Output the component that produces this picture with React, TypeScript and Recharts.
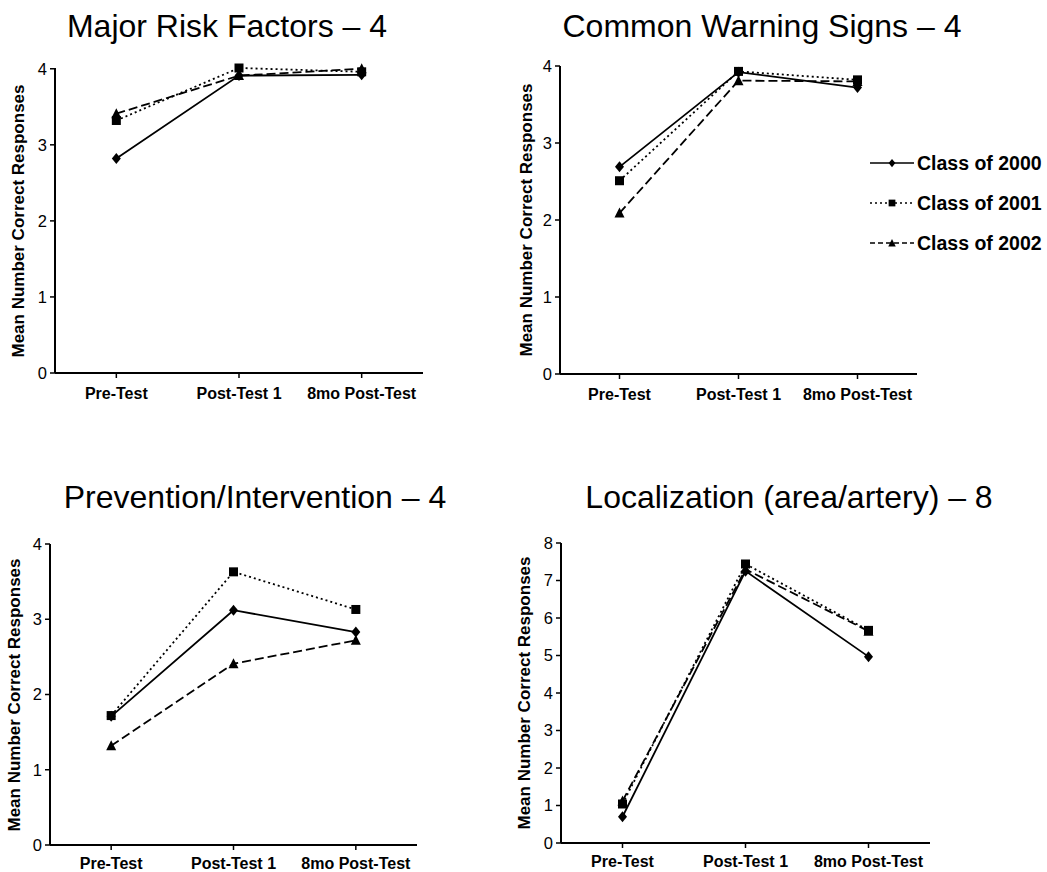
import React from 'react';
import { LineChart, Line, XAxis, YAxis, Legend } from 'recharts';

const stages = ['Pre-Test', 'Post-Test 1', '8mo Post-Test'];
const seriesNames = ['Class of 2000', 'Class of 2001', 'Class of 2002'];

// Major Risk Factors – 4
const riskFactors2000 = [2.82, 3.91, 3.92];
const riskFactors2001 = [3.32, 4.01, 3.96];
const riskFactors2002 = [3.41, 3.91, 4.0];

// Common Warning Signs – 4
const warningSigns2000 = [2.69, 3.92, 3.72];
const warningSigns2001 = [2.51, 3.93, 3.82];
const warningSigns2002 = [2.09, 3.81, 3.8];

// Prevention/Intervention – 4
const prevention2000 = [1.71, 3.12, 2.83];
const prevention2001 = [1.72, 3.63, 3.13];
const prevention2002 = [1.32, 2.41, 2.72];

// Localization (area/artery) – 8
const localization2000 = [0.7, 7.25, 4.97];
const localization2001 = [1.04, 7.44, 5.67];
const localization2002 = [1.12, 7.3, 5.65];

const ticks4 = [0, 1, 2, 3, 4];
const minor4 = [0.5, 1.5, 2.5, 3.5];
const ticks8 = [0, 1, 2, 3, 4, 5, 6, 7, 8];

const FONT = '"Liberation Sans", Arial, Helvetica, sans-serif';
const XAXIS_H = 30;

type Shape = 'diamond' | 'square' | 'triangle';

const SERIES: { key: string; name: string; dash?: string; legendDash?: string; shape: Shape }[] = [
  { key: 'c2000', name: seriesNames[0], shape: 'diamond' },
  { key: 'c2001', name: seriesNames[1], dash: '2 3', legendDash: '2 3', shape: 'square' },
  { key: 'c2002', name: seriesNames[2], dash: '9 4', legendDash: '5 3', shape: 'triangle' },
];

const buildRows = (a: number[], b: number[], c: number[]) =>
  stages.map((stage, i) => ({ stage, c2000: a[i], c2001: b[i], c2002: c[i] }));

const Marker = ({ cx, cy, shape, s = 1 }: { cx?: number; cy?: number; shape: Shape; s?: number }) => {
  if (cx == null || cy == null) return null;
  if (shape === 'diamond')
    return <path d={`M${cx},${cy - 5.5 * s}L${cx + 4.5 * s},${cy}L${cx},${cy + 5.5 * s}L${cx - 4.5 * s},${cy}Z`} fill="#000" />;
  if (shape === 'square')
    return <rect x={cx - 4.5 * s} y={cy - 4.5 * s} width={9 * s} height={9 * s} fill="#000" />;
  return <path d={`M${cx},${cy - 5.5 * s}L${cx + 5 * s},${cy + 4.5 * s}L${cx - 5 * s},${cy + 4.5 * s}Z`} fill="#000" />;
};

const dotFor = (shape: Shape) => (props: any) => (
  <Marker key={`${shape}-${props.index}`} cx={props.cx} cy={props.cy} shape={shape} />
);

const LegendBox = () => (
  <div style={{ fontFamily: FONT }}>
    {SERIES.map((s) => (
      <div key={s.key} style={{ display: 'flex', alignItems: 'center', height: 40 }}>
        <svg width={48} height={16} style={{ display: 'block' }}>
          <line x1={2} y1={8} x2={46} y2={8} stroke="#000" strokeWidth={1.6} strokeDasharray={s.legendDash} />
          <Marker cx={24} cy={8} shape={s.shape} s={0.75} />
        </svg>
        <span style={{ fontWeight: 'bold', fontSize: 19.5, color: '#000', marginLeft: 1, whiteSpace: 'nowrap' }}>
          {s.name}
        </span>
      </div>
    ))}
  </div>
);

interface Frame {
  left: number;
  top: number;
  width: number;
  height: number;
  plotLeft: number;
  plotRight: number;
  plotTop: number;
  plotBottom: number;
}

interface PanelProps {
  title: string;
  titleX: number;
  titleBaseline: number;
  labelX: number;
  rows: any[];
  yMax: number;
  yTicks: number[];
  minorTicks?: number[];
  frame: Frame;
  xTickMargin?: number;
  legend?: { left: number; top: number };
}

const Panel: React.FC<PanelProps> = ({
  title,
  titleX,
  titleBaseline,
  labelX,
  rows,
  yMax,
  yTicks,
  minorTicks,
  frame,
  xTickMargin = 10,
  legend,
}) => {
  const { left, top, width, height, plotLeft, plotRight, plotTop, plotBottom } = frame;
  const pad = (plotRight - plotLeft) / 6;
  const labelY = (plotTop + plotBottom) / 2;
  return (
    <>
      <div
        style={{
          position: 'absolute',
          left: titleX - 300,
          top: titleBaseline - 29,
          width: 600,
          textAlign: 'center',
          fontSize: 32,
          lineHeight: '37px',
          color: '#000',
          whiteSpace: 'nowrap',
        }}
      >
        {title}
      </div>
      <div
        style={{
          position: 'absolute',
          left: labelX - 200,
          top: labelY - 10,
          width: 400,
          height: 20,
          lineHeight: '20px',
          textAlign: 'center',
          fontWeight: 'bold',
          fontSize: 17,
          color: '#000',
          transform: 'rotate(-90deg)',
          whiteSpace: 'nowrap',
        }}
      >
        Mean Number Correct Responses
      </div>
      <div style={{ position: 'absolute', left, top }}>
        <LineChart
          width={width}
          height={height}
          data={rows}
          margin={{
            top: plotTop - top,
            left: 0,
            right: left + width - plotRight,
            bottom: top + height - plotBottom - XAXIS_H,
          }}
        >
          <XAxis
            dataKey="stage"
            type="category"
            height={XAXIS_H}
            padding={{ left: pad, right: pad }}
            axisLine={{ stroke: '#000', strokeWidth: 2 }}
            tickLine={{ stroke: '#000', strokeWidth: 1.5 }}
            tickSize={5}
            tickMargin={xTickMargin}
            interval={0}
            tick={{ fill: '#000', fontSize: 16, fontWeight: 'bold', fontFamily: FONT }}
          />
          <YAxis
            yAxisId="main"
            type="number"
            domain={[0, yMax]}
            ticks={yTicks}
            width={plotLeft - left}
            axisLine={{ stroke: '#000', strokeWidth: 2 }}
            tickLine={{ stroke: '#000', strokeWidth: 1.5 }}
            tickSize={5}
            tickMargin={3}
            interval={0}
            tick={{ fill: '#000', fontSize: 16.5, fontFamily: FONT }}
          />
          {minorTicks && (
            <YAxis
              yAxisId="minor"
              type="number"
              domain={[0, yMax]}
              ticks={minorTicks}
              mirror
              width={0}
              axisLine={false}
              tickLine={{ stroke: '#000', strokeWidth: 1 }}
              tickSize={4}
              interval={0}
              tick={() => <g />}
            />
          )}
          {SERIES.map((s) => (
            <Line
              key={s.key}
              yAxisId="main"
              dataKey={s.key}
              name={s.name}
              type="linear"
              stroke="#000"
              strokeWidth={1.8}
              strokeDasharray={s.dash}
              dot={dotFor(s.shape)}
              activeDot={false}
              isAnimationActive={false}
            />
          ))}
          {legend && (
            <Legend
              layout="vertical"
              align="center"
              verticalAlign="middle"
              content={() => <LegendBox />}
              wrapperStyle={{ left: legend.left, top: legend.top, width: 190, height: 120 }}
            />
          )}
        </LineChart>
      </div>
    </>
  );
};

export default function App() {
  return (
    <div
      style={{
        position: 'absolute',
        left: 0,
        top: 0,
        width: 1047,
        height: 872,
        background: '#fff',
        fontFamily: FONT,
        overflow: 'hidden',
      }}
    >
      <Panel
        title="Major Risk Factors – 4"
        titleX={227}
        titleBaseline={37}
        labelX={19}
        rows={buildRows(riskFactors2000, riskFactors2001, riskFactors2002)}
        yMax={4}
        yTicks={ticks4}
        minorTicks={minor4}
        frame={{ left: 0, top: 0, width: 480, height: 420, plotLeft: 55, plotRight: 423, plotTop: 68, plotBottom: 373 }}
      />
      <Panel
        title="Common Warning Signs – 4"
        titleX={762}
        titleBaseline={37}
        labelX={527}
        rows={buildRows(warningSigns2000, warningSigns2001, warningSigns2002)}
        yMax={4}
        yTicks={ticks4}
        minorTicks={minor4}
        frame={{ left: 500, top: 0, width: 547, height: 420, plotLeft: 560, plotRight: 917, plotTop: 66, plotBottom: 374 }}
        legend={{ left: 368, top: 143 }}
      />
      <Panel
        title="Prevention/Intervention – 4"
        titleX={255}
        titleBaseline={508}
        labelX={15}
        rows={buildRows(prevention2000, prevention2001, prevention2002)}
        yMax={4}
        yTicks={ticks4}
        minorTicks={minor4}
        xTickMargin={8}
        frame={{ left: 0, top: 450, width: 480, height: 422, plotLeft: 50, plotRight: 417, plotTop: 544, plotBottom: 845 }}
      />
      <Panel
        title="Localization (area/artery) – 8"
        titleX={789}
        titleBaseline={508}
        labelX={525}
        rows={buildRows(localization2000, localization2001, localization2002)}
        yMax={8}
        yTicks={ticks8}
        xTickMargin={8}
        frame={{ left: 500, top: 450, width: 547, height: 422, plotLeft: 561, plotRight: 930, plotTop: 543, plotBottom: 843 }}
      />
    </div>
  );
}
